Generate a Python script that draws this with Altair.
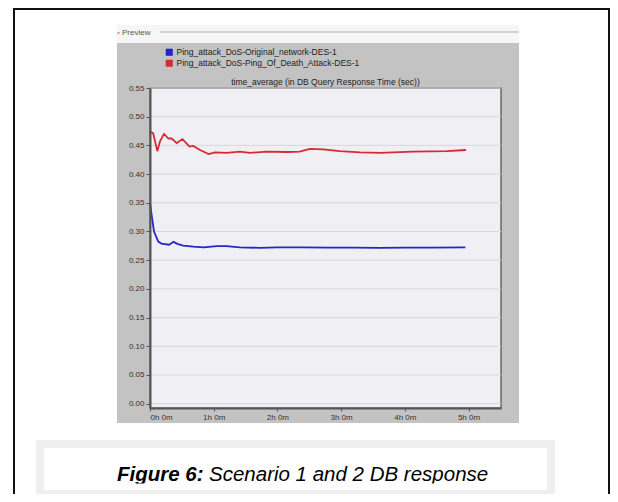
import altair as alt
import pandas as pd

# ---- data (hours, seconds) ----
blue_name = "Ping_attack_DoS-Original_network-DES-1"
red_name = "Ping_attack_DoS-Ping_Of_Death_Attack-DES-1"
series_names = [blue_name, red_name]
series_colors = ["#2626c8", "#d62a34"]

blue_t = [0, 0.03, 0.063, 0.10, 0.13, 0.18, 0.30, 0.37, 0.43, 0.52, 0.68, 0.84,
          1.05, 1.20, 1.41, 1.73, 2.0, 2.4, 2.8, 3.2, 3.6, 4.0, 4.4, 4.95]
blue_v = [0.350, 0.325, 0.300, 0.290, 0.2825, 0.279, 0.277, 0.282, 0.2785, 0.2755,
          0.2735, 0.2725, 0.2745, 0.2745, 0.2725, 0.2715, 0.2725, 0.2725, 0.272,
          0.272, 0.2715, 0.272, 0.272, 0.2725]

red_t = [0, 0.05, 0.115, 0.157, 0.22, 0.29, 0.34, 0.42, 0.51, 0.62, 0.68, 0.785,
         0.92, 1.02, 1.20, 1.41, 1.57, 1.83, 2.15, 2.35, 2.51, 2.72, 2.98, 3.30,
         3.61, 4.13, 4.66, 4.96]
red_v = [0.474, 0.471, 0.440, 0.457, 0.470, 0.462, 0.462, 0.454, 0.461, 0.448,
         0.449, 0.442, 0.435, 0.438, 0.437, 0.439, 0.437, 0.439, 0.4385, 0.439,
         0.444, 0.443, 0.440, 0.438, 0.437, 0.439, 0.440, 0.442]

y_ticks = [0.00, 0.05, 0.10, 0.15, 0.20, 0.25, 0.30, 0.35, 0.40, 0.45, 0.50, 0.55]
x_ticks = [0, 1, 2, 3, 4, 5]
x_tick_labels = ["0h 0m", "1h 0m", "2h 0m", "3h 0m", "4h 0m", "5h 0m"]

chart_title = "time_average (in DB Query Response Time (sec))"
caption_bold = "Figure 6:"
caption_rest = "Scenario 1 and 2 DB response"

df = pd.concat([
    pd.DataFrame({"t": blue_t, "v": blue_v, "series": blue_name}),
    pd.DataFrame({"t": red_t, "v": red_v, "series": red_name}),
])
grid_df = pd.DataFrame({"g": y_ticks})
one = pd.DataFrame({"k": [0]})

FONT = "Liberation Sans"
W, H = 351, 320

x_scale = alt.Scale(domain=[0, 5.51], nice=False, zero=False)
y_scale = alt.Scale(domain=[-0.0075, 0.55], nice=False)

label_expr = "[" + ",".join("'" + s + "'" for s in x_tick_labels) + "][round(datum.value)]"
x_axis = alt.Axis(values=x_ticks, labelExpr=label_expr, grid=False,
                  domainColor="#555555", domainWidth=2, tickColor="#555555",
                  tickSize=3, labelFontSize=8, labelFont=FONT,
                  labelColor="#333333", labelPadding=2, zindex=1)
y_axis = alt.Axis(values=y_ticks, format=".2f", grid=False,
                  domainColor="#555555", domainWidth=2, tickColor="#555555",
                  tickSize=4, labelFontSize=8, labelFont=FONT,
                  labelColor="#333333", labelPadding=2, zindex=1)
color_scale = alt.Scale(domain=series_names, range=series_colors)


def box(x1, x2, y1, y2, **kw):
    return alt.Chart(one).mark_rect(**kw).encode(
        x=alt.value(x1), x2=alt.value(x2), y=alt.value(y1), y2=alt.value(y2))


def label(x, y, txt, **kw):
    return alt.Chart(one).mark_text(font=FONT, **kw).encode(
        x=alt.value(x), y=alt.value(y), text=alt.value(txt))


def hline(x1, x2, y, color, width=1):
    return alt.Chart(one).mark_rule(color=color, strokeWidth=width).encode(
        x=alt.value(x1), x2=alt.value(x2), y=alt.value(y))


# decorations (positions relative to plot origin)
frame = box(-136, 459, -79, 420, fillOpacity=0, stroke="#111111", strokeWidth=2)
cap_outer = box(-114, 405, 352, 409, fill="#efefef")
cap_inner = box(-106, 397, 360, 402, fill="#ffffff")
cap_b = label(-33, 393, caption_bold, fontSize=20.5, fontStyle="italic",
              fontWeight="bold", align="left", baseline="alphabetic", color="#000000")
cap_r = label(59, 393, caption_rest, fontSize=20.5, fontStyle="italic",
              align="left", baseline="alphabetic", color="#000000")
cap_clip = box(-106, 397, 395.5, 402, fill="#ffffff")

strip = box(-33, 369, -63, -45, fill="#f6f6f6")
prev_dash = hline(-33, -30, -55, "#8a8a8a")
prev_txt = label(-28, -55, "Preview", fontSize=8, align="left", baseline="middle",
                 color="#555555")
prev_line = hline(10, 369, -56, "#b0b0b0")
panel = box(-33, 369, -45, 335, fill="#c3c3c3")

# legend source: filled squares (hidden below the plot background)
legend_marks = alt.Chart(df).mark_square(size=1, opacity=1).encode(
    x=alt.X("t:Q", scale=x_scale, title=None, axis=x_axis),
    y=alt.Y("v:Q", scale=y_scale, title=None, axis=y_axis),
    fill=alt.Fill("series:N", scale=color_scale,
                  legend=alt.Legend(orient="none", legendX=15, legendY=-40,
                                    title=None, symbolType="square",
                                    symbolSize=42, symbolStrokeColor="#333333",
                                    symbolStrokeWidth=0.6, symbolOpacity=1,
                                    labelFont=FONT,
                                    labelFontSize=8.5, labelColor="#222222",
                                    labelLimit=400, rowPadding=1, labelOffset=3)),
)

plot_bg = box(0, W, 0, H, fill="#f0eff3", stroke="#6a6a6a", strokeWidth=1.5)
title = label(W / 2, -6, chart_title, fontSize=8.5, align="center",
              baseline="middle", color="#222222")

grid = alt.Chart(grid_df).mark_rule(color="#d8d8dc", strokeWidth=1).encode(
    y=alt.Y("g:Q", scale=y_scale, title=None, axis=y_axis))

lines = alt.Chart(df).mark_line(strokeWidth=1.8).encode(
    x=alt.X("t:Q", scale=x_scale, title=None, axis=x_axis),
    y=alt.Y("v:Q", scale=y_scale, title=None, axis=y_axis),
    color=alt.Color("series:N", scale=color_scale, legend=None),
    order=alt.Order("t:Q"),
)

chart = alt.layer(
    frame, cap_outer, cap_inner, cap_b, cap_r, cap_clip,
    strip, prev_dash, prev_txt, prev_line, panel, legend_marks, plot_bg,
    grid, lines, title,
).properties(
    width=W, height=H, autosize="none",
    padding={"left": 142, "top": 80, "right": 109, "bottom": 86},
    background="#ffffff",
).configure_view(stroke="transparent")

chart.save("out.html", embed_options={"renderer": "svg", "actions": False})
